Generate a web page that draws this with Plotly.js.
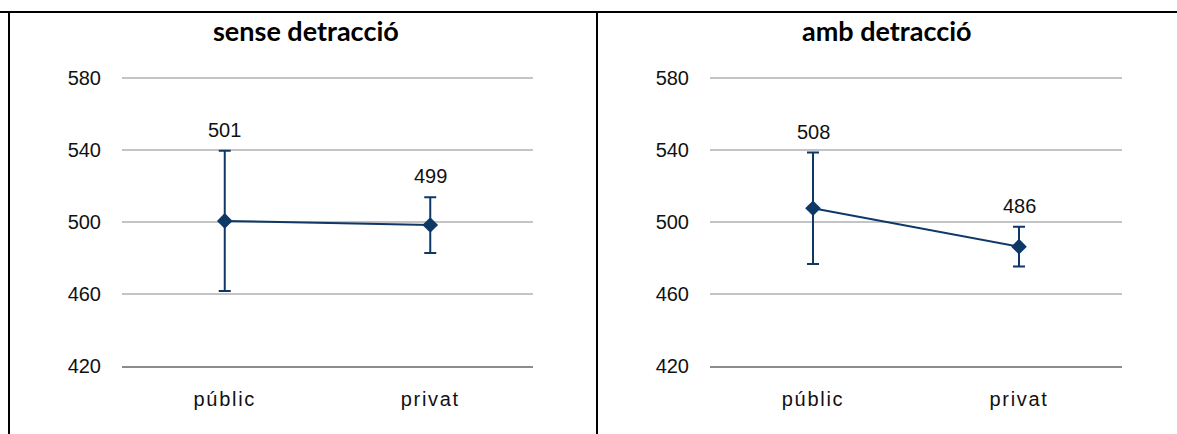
<!DOCTYPE html>
<html>
<head>
<meta charset="utf-8">
<script src="https://cdn.plot.ly/plotly-3.0.1.min.js"></script>
<style>
  html, body { margin: 0; padding: 0; background: #fff; }
  #chart { width: 1177px; height: 434px; }
  .xtick text, .x2tick text { letter-spacing: 1.7px; }
</style>
</head>
<body>
<div id="chart"></div>
<script>
// ---- data ----
const categories = ['públic', 'privat'];
const panelTitles = ['sense detracció', 'amb detracció'];
const senseValues = [500.6, 498.3];
const senseErrors = [39, 15.5];
const senseLabels = ['501', '499'];
const ambValues = [507.6, 486.3];
const ambErrors = [31, 11];
const ambLabels = ['508', '486'];
const yTicks = [420, 460, 500, 540, 580];

// ---- style ----
const W = 1177, H = 434;
const navy = '#0d3868';
const textColor = '#111111';
const fx = px => px / W;
const fy = py => 1 - py / H;

function series(values, errors, xa, ya) {
  return {
    type: 'scatter', mode: 'lines+markers',
    x: categories, y: values, xaxis: xa, yaxis: ya,
    line: { color: navy, width: 2 },
    marker: { symbol: 'diamond', size: 12, color: navy },
    error_y: { type: 'data', array: errors, visible: true, color: navy, thickness: 2, width: 6 },
    hoverinfo: 'skip', showlegend: false, cliponaxis: false
  };
}

const data = [
  series(senseValues, senseErrors, 'x', 'y'),
  series(ambValues, ambErrors, 'x2', 'y2')
];

function labelAnns(values, errors, labels, xr, yr) {
  return values.map((v, i) => ({
    x: categories[i], y: v + errors[i], xref: xr, yref: yr,
    text: labels[i], showarrow: false, yanchor: 'bottom', yshift: 8,
    font: { family: 'Liberation Sans, Arial, sans-serif', size: 20, color: textColor }
  }));
}

// y range padded at top (72px per 40 units) so the 580 gridline is not clipped
const yDomain = [fy(366), fy(78 - 3 * 72 / 40)];
const axisFont = { family: 'Liberation Sans, Arial, sans-serif', size: 20, color: textColor };

function xAxis(domain, anchor) {
  return {
    domain: domain, anchor: anchor, type: 'category', range: [-0.5, 1.5],
    showgrid: false, zeroline: false, showline: true, linecolor: '#8c8c8c', linewidth: 2,
    ticks: '', tickfont: axisFont, ticklabelstandoff: 14, fixedrange: true
  };
}
function yAxis(anchor) {
  return {
    domain: yDomain, anchor: anchor, range: [420, 583], tickvals: yTicks,
    showgrid: true, gridcolor: '#c4c4c4', gridwidth: 1.5, zeroline: false,
    showline: false, ticks: '', tickfont: axisFont, ticklabelstandoff: 20, fixedrange: true
  };
}

const titleFont = { family: 'Lato, sans-serif', size: 27, color: '#000' };

const layout = {
  width: W, height: H,
  margin: { l: 0, r: 0, t: 0, b: 0, autoexpand: false },
  paper_bgcolor: '#ffffff', plot_bgcolor: '#ffffff',
  xaxis: xAxis([fx(122), fx(533)], 'y'),
  yaxis: yAxis('x'),
  xaxis2: xAxis([fx(710), fx(1122)], 'y2'),
  yaxis2: yAxis('x2'),
  shapes: [
    { type: 'line', xref: 'paper', yref: 'paper', x0: 0, x1: 1, y0: fy(12), y1: fy(12), line: { color: '#000', width: 2 } },
    { type: 'line', xref: 'paper', yref: 'paper', x0: fx(9), x1: fx(9), y0: 0, y1: fy(12), line: { color: '#000', width: 2 } },
    { type: 'line', xref: 'paper', yref: 'paper', x0: fx(597), x1: fx(597), y0: 0, y1: fy(12), line: { color: '#000', width: 2 } }
  ],
  annotations: [
    { x: fx(306), y: fy(31), xref: 'paper', yref: 'paper', text: '<b>' + panelTitles[0] + '</b>', showarrow: false,
      xanchor: 'center', yanchor: 'middle', font: titleFont },
    { x: fx(887), y: fy(31), xref: 'paper', yref: 'paper', text: '<b>' + panelTitles[1] + '</b>', showarrow: false,
      xanchor: 'center', yanchor: 'middle', font: titleFont }
  ].concat(labelAnns(senseValues, senseErrors, senseLabels, 'x', 'y'))
   .concat(labelAnns(ambValues, ambErrors, ambLabels, 'x2', 'y2'))
};

Plotly.newPlot('chart', data, layout, { staticPlot: true, displayModeBar: false });
</script>
</body>
</html>
